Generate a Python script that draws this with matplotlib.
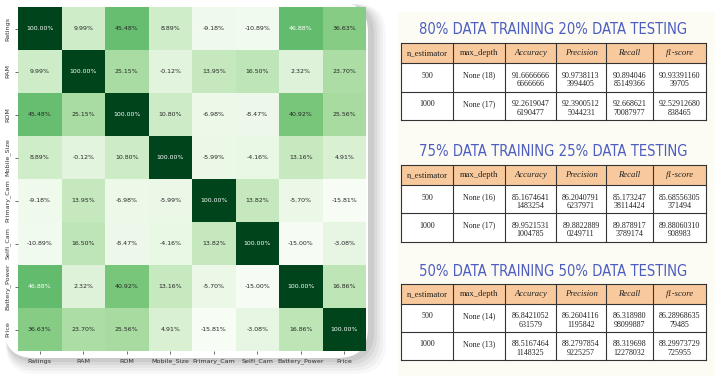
"""Correlation heatmap + random forest result tables"""

import numpy as np
import matplotlib
matplotlib.use('Agg')
import matplotlib.pyplot as plt
import seaborn as sns
from matplotlib.patches import Rectangle, FancyBboxPatch

features = ['Ratings', 'RAM', 'ROM', 'Mobile_Size', 'Primary_Cam',
            'Selfi_Cam', 'Battery_Power', 'Price']
corr = np.array([
    [1.0000, 0.0999, 0.4548, 0.0889, -0.0918, -0.1089, 0.4688, 0.3663],
    [0.0999, 1.0000, 0.2515, -0.0012, 0.1395, 0.1650, 0.0232, 0.2370],
    [0.4548, 0.2515, 1.0000, 0.1080, -0.0698, -0.0847, 0.4092, 0.2556],
    [0.0889, -0.0012, 0.1080, 1.0000, -0.0599, -0.0416, 0.1316, 0.0491],
    [-0.0918, 0.1395, -0.0698, -0.0599, 1.0000, 0.1382, -0.0570, -0.1581],
    [-0.1089, 0.1650, -0.0847, -0.0416, 0.1382, 1.0000, -0.1500, -0.0308],
    [0.4688, 0.0232, 0.4092, 0.1316, -0.0570, -0.1500, 1.0000, 0.1686],
    [0.3663, 0.2370, 0.2556, 0.0491, -0.1581, -0.0308, 0.1686, 1.0000],
])

table_titles = ['80% DATA TRAINING 20% DATA TESTING',
                '75% DATA TRAINING 25% DATA TESTING',
                '50% DATA TRAINING 50% DATA TESTING']
columns = ['n_estimator', 'max_depth', 'Accuracy', 'Precision', 'Recall', 'f1-score']
n_estimators = ['500', '1000']
max_depth = [['None (18)', 'None (17)'],
             ['None (16)', 'None (17)'],
             ['None (14)', 'None (13)']]
accuracy = [['91.66666666666666', '92.26190476190477'],
            ['85.16746411483254', '89.95215311004785'],
            ['86.8421052631579', '88.51674641148325']]
precision = [['90.97381133994405', '92.39005125044231'],
             ['86.20407916237971', '89.88228890249711'],
             ['86.26041161195842', '88.27978549225257']]
recall = [['90.89404685149366', '92.66862170087977'],
          ['85.17324738114424', '89.8789173789174'],
          ['86.31898098099887', '88.31969812278032']]
f1 = [['90.9339116039705', '92.52912680838465'],
      ['85.68556305371494', '89.88060310908983'],
      ['86.2896863579485', '88.29973729725955']]

W, H = 715, 376
fig = plt.figure(figsize=(W / 100, H / 100), dpi=100)
fig.patch.set_facecolor('white')

# overlay axes in pixel coordinates for card, panel and tables
bg = fig.add_axes([0, 0, 1, 1])
bg.set_xlim(0, W)
bg.set_ylim(H, 0)
bg.axis('off')

# soft shadow of the heatmap card
for i, a in enumerate([0.04, 0.05, 0.06, 0.08, 0.10]):
    d = 16 - i * 3
    bg.add_patch(FancyBboxPatch((6, 4), 364 + d, 354 + d,
                                boxstyle='round,pad=0,rounding_size=30',
                                fc='#505050', ec='none', alpha=a, zorder=1))
bg.add_patch(FancyBboxPatch((4, 2), 364, 356,
                            boxstyle='round,pad=0,rounding_size=30',
                            fc='white', ec='none', zorder=2))

# cream panel behind the tables
bg.add_patch(Rectangle((398, 12), 317, 364, fc='#fdfcf4', ec='none', zorder=1))

col_x = [401, 453, 505, 556, 606, 653, 706]
wrap = [None, None, 10, 10, 9, 11]
tops = [(30, 43, 63, 92, 120), (151, 165, 185, 213, 242), (272, 284, 304, 332, 360)]
serif = 'Liberation Serif'

for t, (ty, h0, h1, r1, r2) in enumerate(tops):
    bg.text((col_x[0] + col_x[-1]) / 2, ty, table_titles[t], ha='center', va='center',
            fontsize=10.6, color='#4d5ec0', family='DejaVu Sans', fontstretch='condensed',
            zorder=5)
    bg.add_patch(Rectangle((col_x[0], h0), col_x[-1] - col_x[0], h1 - h0,
                           fc='#f8c99c', ec='none', zorder=3))
    bg.add_patch(Rectangle((col_x[0], h1), col_x[-1] - col_x[0], r2 - h1,
                           fc='white', ec='none', zorder=3))
    for y in (h0, h1, r1, r2):
        bg.plot([col_x[0], col_x[-1]], [y, y], color='#333333', lw=0.8, zorder=4)
    for x in col_x:
        bg.plot([x, x], [h0, r2], color='#333333', lw=0.8, zorder=4)
    for c, name in enumerate(columns):
        cx = (col_x[c] + col_x[c + 1]) / 2
        bg.text(cx, (h0 + h1) / 2, name, ha='center', va='center', fontsize=6.2,
                family=serif, style='normal' if c < 2 else 'italic', color='#222222', zorder=5)
    rows = [[n_estimators[r], max_depth[t][r], accuracy[t][r], precision[t][r],
             recall[t][r], f1[t][r]] for r in range(2)]
    for r, (ya, yb) in enumerate([(h1, r1), (r1, r2)]):
        for c, val in enumerate(rows[r]):
            cx = (col_x[c] + col_x[c + 1]) / 2
            if wrap[c]:
                bg.text(cx, ya + 12.5, val[:wrap[c]], ha='center', va='center',
                        fontsize=5.8, family=serif, color='#222222', zorder=5)
                bg.text(cx, ya + 21, val[wrap[c]:], ha='center', va='center',
                        fontsize=5.8, family=serif, color='#222222', zorder=5)
            else:
                bg.text(cx, ya + 12.5, val, ha='center', va='center',
                        fontsize=5.8, family=serif, color='#222222', zorder=5)

# heatmap
ax = fig.add_axes([18 / W, 1 - 351 / H, 348 / W, 344 / H])
ax.set_zorder(3)
sns.heatmap(corr, ax=ax, cmap='Greens', annot=True, fmt='.2%', cbar=False,
            xticklabels=features, yticklabels=features,
            annot_kws={'fontsize': 4.5})
ax.tick_params(labelsize=4.6, length=2, width=0.5, colors='#333333')
plt.setp(ax.get_yticklabels(), rotation=90, va='center')
plt.setp(ax.get_xticklabels(), rotation=0)

fig.savefig('out.png', dpi=100)
